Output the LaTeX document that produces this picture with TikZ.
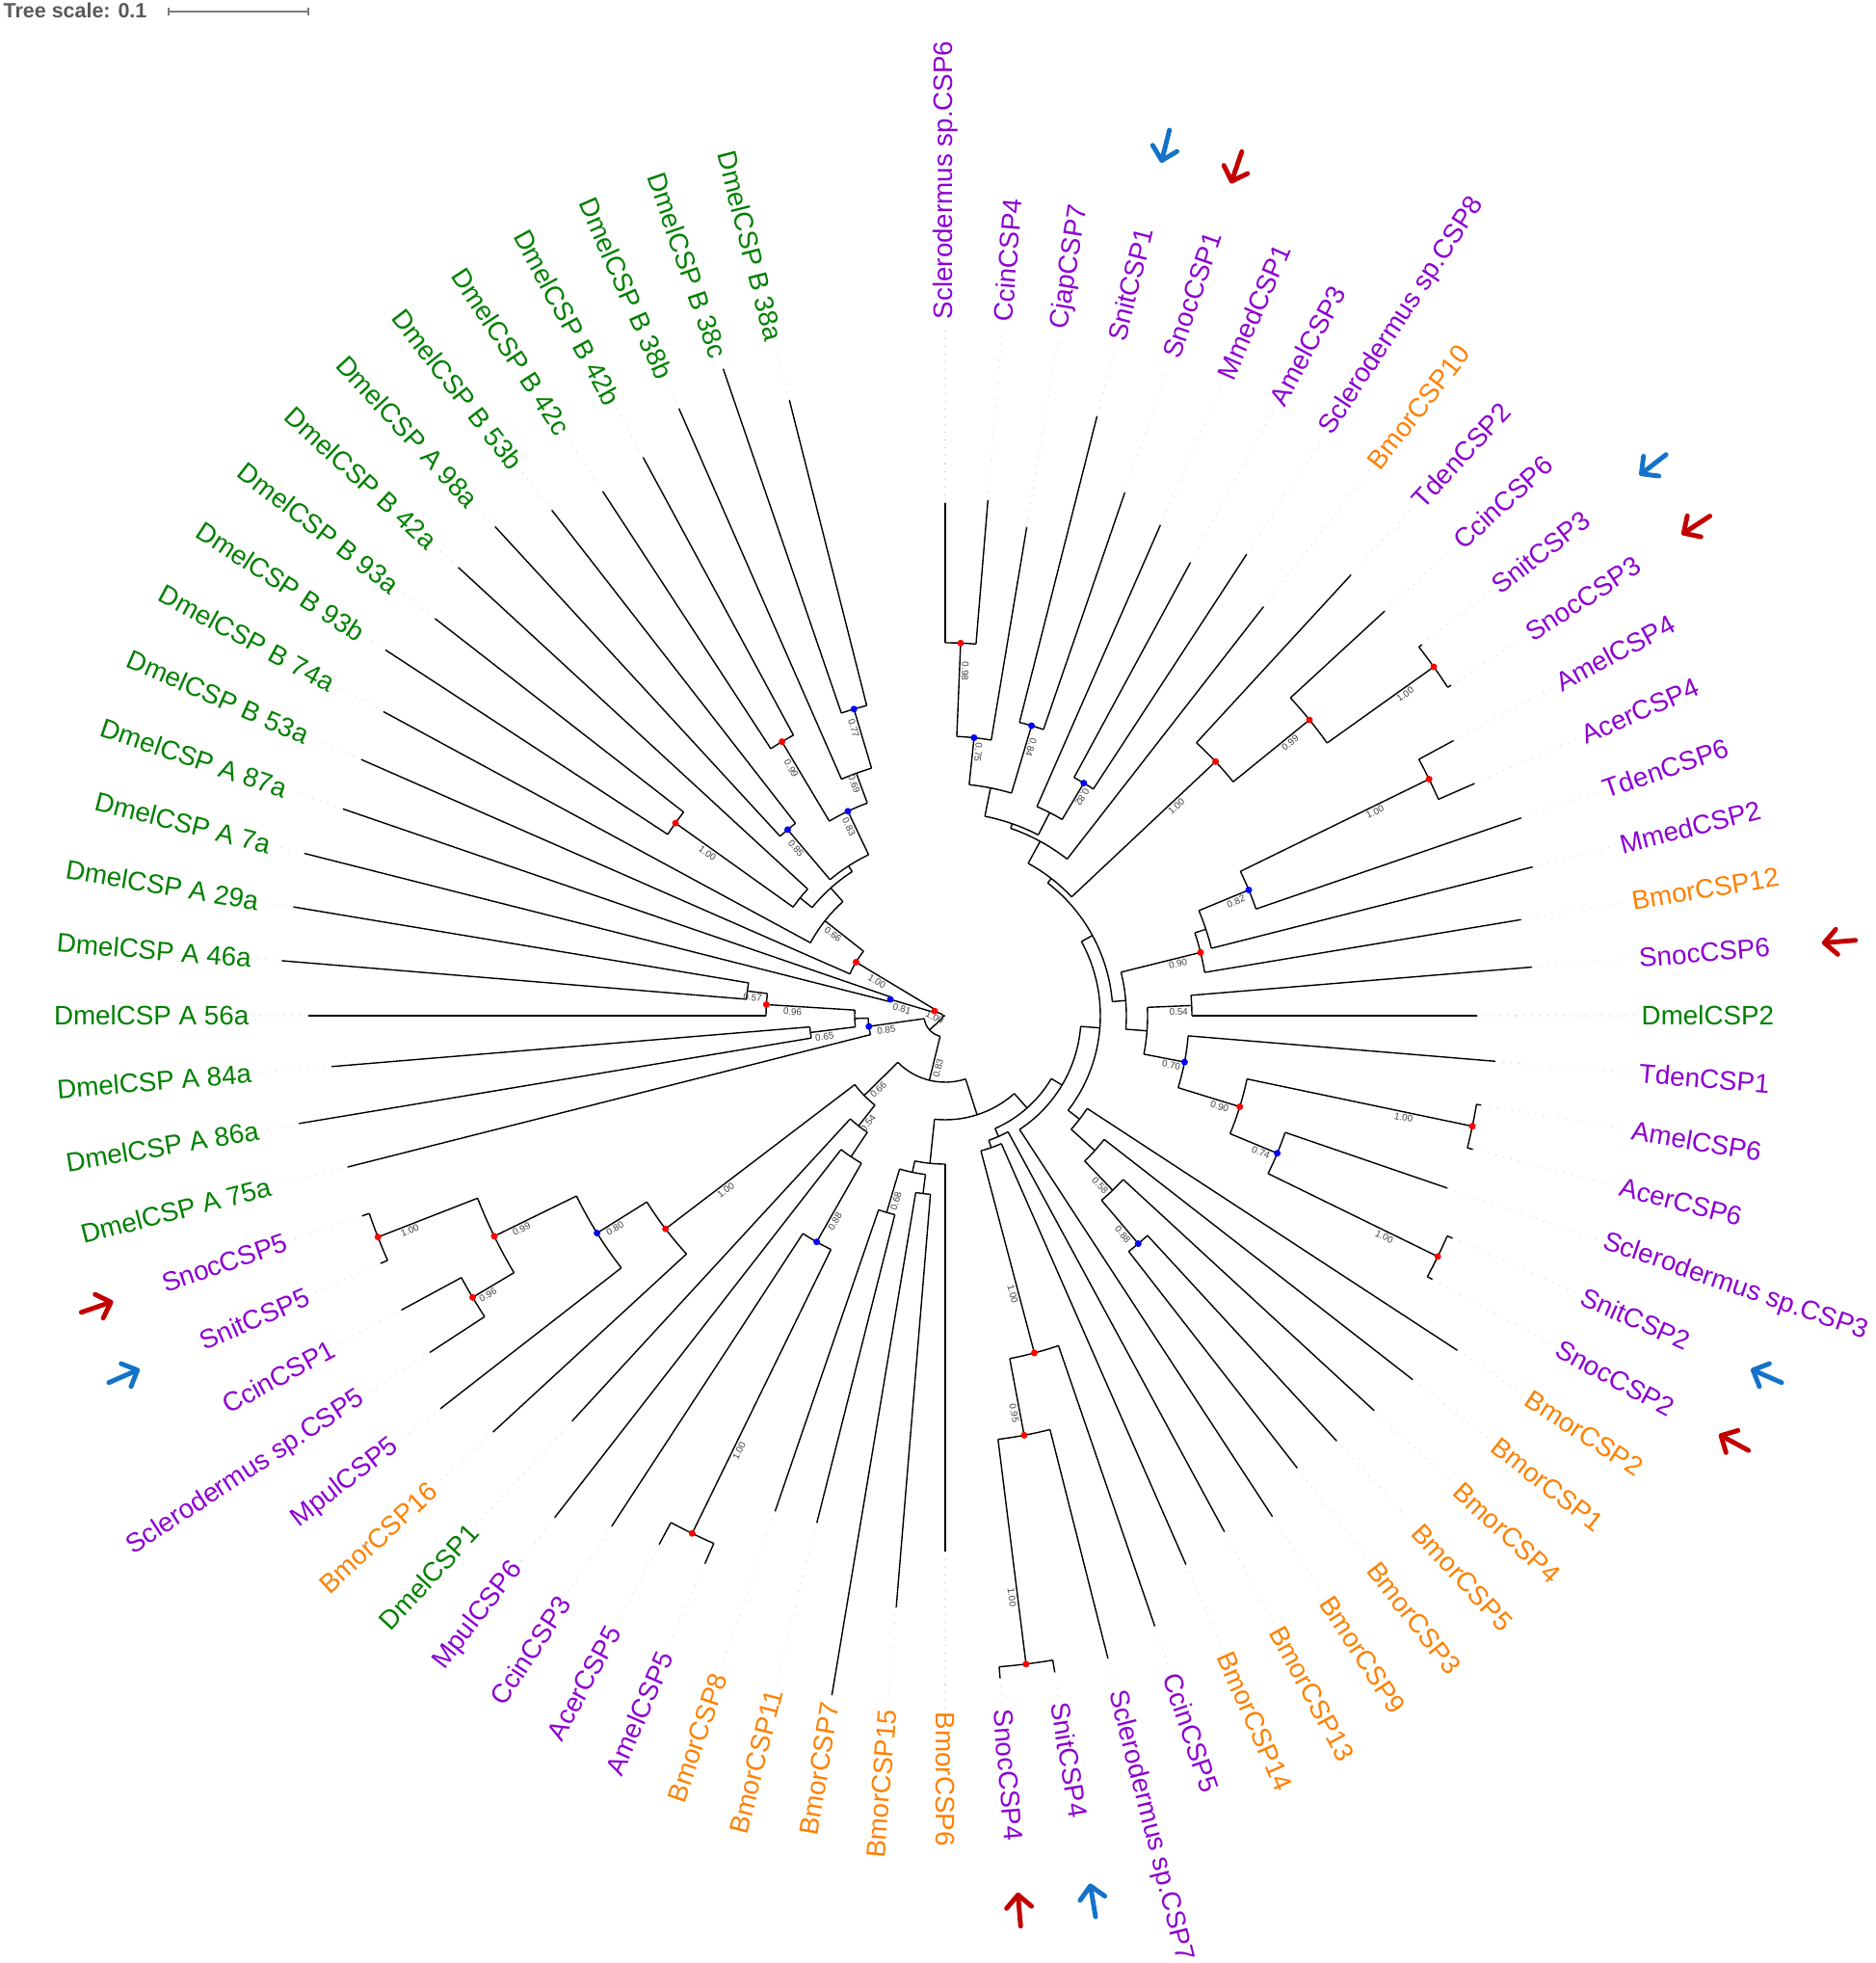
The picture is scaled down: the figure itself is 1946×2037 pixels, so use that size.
\documentclass[tikz,border=0pt]{standalone}
\usepackage{fontspec}
\setmainfont{Liberation Sans}
\usetikzlibrary{arrows.meta}
\definecolor{LeafPurple}{RGB}{140,0,210}
\definecolor{LeafGreen}{RGB}{0,128,0}
\definecolor{LeafOrange}{RGB}{255,128,0}
\definecolor{SupRed}{RGB}{255,0,0}
\definecolor{SupBlue}{RGB}{0,0,255}
\definecolor{ArrowRed}{RGB}{195,0,0}
\definecolor{ArrowBlue}{RGB}{20,115,200}
\definecolor{ScaleGray}{RGB}{90,90,90}
\tikzset{
  branch/.style={line width=0.4pt,draw=black},
  leader/.style={draw=gray!30,dotted,line width=0.3pt},
  leaflabel/.style={font=\fontsize{7.9}{9}\selectfont,inner sep=0pt},
  suplabel/.style={font=\fontsize{2.8}{3}\selectfont,text=black!75,inner sep=0.5pt},
  dotred/.style={circle,fill=SupRed,inner sep=0pt,minimum size=0.07cm},
  dotblue/.style={circle,fill=SupBlue,inner sep=0pt,minimum size=0.07cm},
  markarrow/.style={line width=1.4pt,line cap=round,
    -{Straight Barb[length=1.3mm,width=2.6mm,round]}},
  scalelabel/.style={font=\fontsize{6.1}{7}\selectfont\bfseries,text=ScaleGray,inner sep=0pt},
  scalebar/.style={draw=ScaleGray!80,line width=0.4pt}
}
% index -> angle: 76 slots round the circle, leaf 1 at the top
% leaf: index, parent radius, tip radius, colour, text
\newcommand\leaf[5]{%
  \pgfmathsetmacro\la{90-(#1-1)*4.736842}
  \draw[branch] (\la:#2) -- (\la:#3);
  \draw[leader] (\la:#3) -- (\la:718);
  \ifdim\la pt<-90.5pt
    \pgfmathsetmacro\lr{\la+180}
    \node[leaflabel,text=#4,anchor=east,rotate=\lr] (l#1) at (\la:722) {#5};
  \else
    \node[leaflabel,text=#4,anchor=west,rotate=\la] (l#1) at (\la:722) {#5};
  \fi}
% clade: index, parent radius, radius, first child index, last child index
\newcommand\clade[5]{%
  \pgfmathsetmacro\ca{90-(#1-1)*4.736842}
  \pgfmathsetmacro\cb{90-(#4-1)*4.736842}
  \pgfmathsetmacro\cc{90-(#5-1)*4.736842}
  \draw[branch] (\ca:#2) -- (\ca:#3);
  \draw[branch] (\cb:#3) arc[start angle=\cb,end angle=\cc,radius=#3];}
% support value on the branch: index, parent radius, radius, value, name
\newcommand\support[5]{%
  \pgfmathsetmacro\sa{90-(#1-1)*4.736842}
  \pgfmathsetmacro\sr{#2+0.7*(#3-#2)}
  \pgfmathsetmacro\srot{ifthenelse(\sa>50,\sa-180,ifthenelse(\sa<-90,\sa+180,\sa))}
  \ifdim\sa pt>50pt \def\sanc{south}\else\def\sanc{north}\fi
  \node[suplabel,rotate=\srot,anchor=\sanc] (s#5) at (\sa:\sr) {#4};}
% dot at a node: index, radius, style, name
\newcommand\dotat[4]{%
  \pgfmathsetmacro\da{90-(#1-1)*4.736842}
  \node[#3] (d#4) at (\da:#2) {};}
% arrow beside a label: index, colour, name
\newcommand\marker[3]{%
  \pgfmathsetmacro\ma{90-(#1-1)*4.736842}
  \coordinate (#3a) at (\ma:948);
  \coordinate (#3b) at (\ma:913);
  \draw[markarrow,draw=#2] (#3a) -- (#3b);}

\begin{document}
\begin{tikzpicture}[x=0.01cm,y=0.01cm]
  \useasboundingbox (-981,-983) rectangle (965,1054);

  % scale
  \node[scalelabel,anchor=west] (scaletext) at (-978,1043) {Tree scale: 0.1};
  \coordinate (scaleL) at (-806,1042);
  \coordinate (scaleR) at (-661,1042);
  \draw[scalebar] (scaleL) -- (scaleR);
  \draw[scalebar] (scaleL) ++(0,-4) -- ++(0,8);
  \draw[scalebar] (scaleR) ++(0,-4) -- ++(0,8);

  % backbone
  \clade{56.07}{0}{3}{49.11377}{63.019531}
  \clade{63.019531}{3}{12}{61.5}{64.539063}
  \clade{49.11377}{3}{22}{41.915039}{56.3125}

  % upper clade
  \clade{1.5}{290}{387}{1}{2}
  \clade{2.25}{241}{290}{1.5}{3}
  \clade{4.5}{241}{314}{4}{5}
  \clade{3.375}{211}{241}{2.25}{4.5}
  \clade{7.5}{237}{281}{7}{8}
  \clade{6.75}{211}{237}{6}{7.5}
  \clade{5.0625}{206}{211}{3.375}{6.75}
  \clade{7.03125}{180}{206}{5.0625}{9}
  \clade{12.5}{487}{623}{12}{13}
  \clade{11.75}{385}{487}{11}{12.5}
  \clade{10.875}{180}{385}{10}{11.75}
  \clade{8.953125}{174}{180}{7.03125}{10.875}
  \clade{14.5}{341}{559}{14}{15}
  \clade{15.25}{285}{341}{14.5}{16}
  \clade{16.125}{273}{285}{15.25}{17}
  \clade{17.0625}{188}{273}{16.125}{18}
  \clade{19.5}{210}{256}{19}{20}
  \clade{22.5}{320}{559}{22}{23}
  \clade{25.5}{373}{569}{25}{26}
  \clade{24.75}{320}{373}{24}{25.5}
  \clade{23.625}{253}{320}{22.5}{24.75}
  \clade{22.3125}{210}{253}{21}{23.625}
  \clade{20.90625}{188}{210}{19.5}{22.3125}
  \clade{18.984375}{174}{188}{17.0625}{20.90625}
  \clade{13.96875}{161}{174}{8.953125}{18.984375}
  \clade{30.5}{251}{310}{30}{31}
  \clade{29.75}{209}{251}{29}{30.5}
  \clade{28.875}{176}{209}{28}{29.75}
  \clade{27.9375}{161}{176}{27}{28.875}
  \clade{20.953125}{141}{161}{13.96875}{27.9375}
  \clade{26.4765625}{128}{141}{20.953125}{32}
  \clade{37.5}{443}{678}{37}{38}
  \clade{36.75}{362}{443}{36}{37.5}
  \clade{35.875}{145}{362}{35}{36.75}
  \clade{34.9375}{137}{145}{34}{35.875}
  \clade{33.96875}{128}{137}{33}{34.9375}
  \clade{30.22265625}{108}{128}{26.4765625}{33.96875}
  \clade{40.5}{166}{186}{40}{41}
  \clade{42.5}{166}{213}{42}{43}
  \clade{41.5}{154}{166}{40.5}{42.5}
  \clade{40.25}{108}{154}{39}{41.5}
  \clade{35.236328}{69}{108}{30.22265625}{40.25}
  \clade{44.5}{270}{598}{44}{45}
  \clade{45.25}{176}{270}{44.5}{46}
  \clade{46.125}{145.5}{176}{45.25}{47}
  \clade{47.0625}{118}{145.5}{46.125}{48}
  \clade{53.5}{521}{632}{53}{54}
  \clade{51.5}{521}{571}{51}{52}
  \clade{52.5}{426}{521}{51.5}{53.5}
  \clade{51.25}{365}{426}{50}{52.5}
  \clade{50.125}{118}{365}{49}{51.25}
  \clade{48.59375}{69}{118}{47.0625}{50.125}
  \clade{41.915039}{22}{69}{35.236328}{48.59375}

  % Dmel A/B clade
  \clade{59.5}{186}{207}{59}{60}
  \clade{58.75}{94}{186}{58}{59.5}
  \clade{56.5}{94}{141}{56}{57}
  \clade{57.625}{80}{94}{56.5}{58.75}
  \clade{56.3125}{22}{80}{55}{57.625}
  \clade{61.5}{12}{59.4}{61}{62}
  \clade{73.5}{268}{332}{73}{74}
  \clade{72.75}{235}{268}{72}{73.5}
  \clade{70.5}{235}{331}{70}{71}
  \clade{71.625}{185}{235}{70.5}{72.75}
  \clade{68.5}{185}{253}{68}{69}
  \clade{70.0625}{178}{185}{68.5}{71.625}
  \clade{65.5}{194}{344}{65}{66}
  \clade{66.25}{178}{194}{65.5}{67}
  \clade{68.15625}{159}{178}{66.25}{70.0625}
  \clade{66.078125}{108}{159}{64}{68.15625}
  \clade{64.539063}{12}{108}{63}{66.078125}

  % leaves
  \leaf{1}{387}{532}{LeafPurple}{Sclerodermus sp.CSP6}
  \leaf{2}{387}{537}{LeafPurple}{CcinCSP4}
  \leaf{3}{290}{514}{LeafPurple}{CjapCSP7}
  \leaf{4}{314}{642}{LeafPurple}{SnitCSP1}
  \leaf{5}{314}{574}{LeafPurple}{SnocCSP1}
  \leaf{6}{237}{556}{LeafPurple}{MmedCSP1}
  \leaf{7}{281}{535}{LeafPurple}{AmelCSP3}
  \leaf{8}{281}{572}{LeafPurple}{Sclerodermus sp.CSP8}
  \leaf{9}{206}{538}{LeafOrange}{BmorCSP10}
  \leaf{10}{385}{622}{LeafPurple}{TdenCSP2}
  \leaf{11}{487}{620}{LeafPurple}{CcinCSP6}
  \leaf{12}{623}{627}{LeafPurple}{SnitCSP3}
  \leaf{13}{623}{627}{LeafPurple}{SnocCSP3}
  \leaf{14}{559}{600}{LeafPurple}{AmelCSP4}
  \leaf{15}{559}{600}{LeafPurple}{AcerCSP4}
  \leaf{16}{341}{632}{LeafPurple}{TdenCSP6}
  \leaf{17}{285}{629}{LeafPurple}{MmedCSP2}
  \leaf{18}{273}{606}{LeafOrange}{BmorCSP12}
  \leaf{19}{256}{611}{LeafPurple}{SnocCSP6}
  \leaf{20}{256}{552}{LeafGreen}{DmelCSP2}
  \leaf{21}{253}{573}{LeafPurple}{TdenCSP1}
  \leaf{22}{559}{564}{LeafPurple}{AmelCSP6}
  \leaf{23}{559}{565}{LeafPurple}{AcerCSP6}
  \leaf{24}{373}{551}{LeafPurple}{Sclerodermus sp.CSP3}
  \leaf{25}{569}{575}{LeafPurple}{SnitCSP2}
  \leaf{26}{569}{575}{LeafPurple}{SnocCSP2}
  \leaf{27}{176}{635}{LeafOrange}{BmorCSP2}
  \leaf{28}{209}{615}{LeafOrange}{BmorCSP1}
  \leaf{29}{251}{605}{LeafOrange}{BmorCSP4}
  \leaf{30}{310}{600}{LeafOrange}{BmorCSP5}
  \leaf{31}{310}{595}{LeafOrange}{BmorCSP3}
  \leaf{32}{141}{621}{LeafOrange}{BmorCSP9}
  \leaf{33}{137}{609}{LeafOrange}{BmorCSP13}
  \leaf{34}{145}{622}{LeafOrange}{BmorCSP14}
  \leaf{35}{362}{670}{LeafPurple}{CcinCSP5}
  \leaf{36}{443}{688}{LeafPurple}{Sclerodermus sp.CSP7}
  \leaf{37}{678}{691}{LeafPurple}{SnitCSP4}
  \leaf{38}{678}{690}{LeafPurple}{SnocCSP4}
  \leaf{39}{154}{556}{LeafOrange}{BmorCSP6}
  \leaf{40}{186}{616}{LeafOrange}{BmorCSP15}
  \leaf{41}{186}{715}{LeafOrange}{BmorCSP7}
  \leaf{42}{213}{543}{LeafOrange}{BmorCSP11}
  \leaf{43}{213}{544}{LeafOrange}{BmorCSP8}
  \leaf{44}{598}{621}{LeafPurple}{AmelCSP5}
  \leaf{45}{598}{624}{LeafPurple}{AcerCSP5}
  \leaf{46}{270}{633}{LeafPurple}{CcinCSP3}
  \leaf{47}{176}{660}{LeafPurple}{MpulCSP6}
  \leaf{48}{145.5}{572}{LeafGreen}{DmelCSP1}
  \leaf{49}{365}{638}{LeafOrange}{BmorCSP16}
  \leaf{50}{426}{664}{LeafPurple}{MpulCSP5}
  \leaf{51}{571}{639}{LeafPurple}{Sclerodermus sp.CSP5}
  \leaf{52}{571}{642}{LeafPurple}{CcinCSP1}
  \leaf{53}{632}{640}{LeafPurple}{SnitCSP5}
  \leaf{54}{632}{640}{LeafPurple}{SnocCSP5}
  \leaf{55}{80}{640}{LeafGreen}{DmelCSP A 75a}
  \leaf{56}{141}{680}{LeafGreen}{DmelCSP A 86a}
  \leaf{57}{141}{639}{LeafGreen}{DmelCSP A 84a}
  \leaf{58}{186}{661}{LeafGreen}{DmelCSP A 56a}
  \leaf{59}{207}{691}{LeafGreen}{DmelCSP A 46a}
  \leaf{60}{207}{686}{LeafGreen}{DmelCSP A 29a}
  \leaf{61}{59.4}{686}{LeafGreen}{DmelCSP A 7a}
  \leaf{62}{59.4}{661}{LeafGreen}{DmelCSP A 87a}
  \leaf{63}{108}{662}{LeafGreen}{DmelCSP B 53a}
  \leaf{64}{159}{663}{LeafGreen}{DmelCSP B 74a}
  \leaf{65}{344}{694}{LeafGreen}{DmelCSP B 93b}
  \leaf{66}{344}{671}{LeafGreen}{DmelCSP B 93a}
  \leaf{67}{194}{687}{LeafGreen}{DmelCSP B 42a}
  \leaf{68}{253}{690}{LeafGreen}{DmelCSP A 98a}
  \leaf{69}{253}{665}{LeafGreen}{DmelCSP B 53b}
  \leaf{70}{331}{650}{LeafGreen}{DmelCSP B 42c}
  \leaf{71}{331}{659}{LeafGreen}{DmelCSP B 42b}
  \leaf{72}{268}{688}{LeafGreen}{DmelCSP B 38b}
  \leaf{73}{332}{710}{LeafGreen}{DmelCSP B 38c}
  \leaf{74}{332}{659}{LeafGreen}{DmelCSP B 38a}

  % support values
  \support{1.5}{290}{387}{0.98}{a}
  \support{2.25}{241}{290}{0.75}{b}
  \support{4.5}{241}{314}{0.84}{c}
  \support{7.5}{237}{281}{0.82}{e}
  \support{12.5}{487}{623}{1.00}{i}
  \support{11.75}{385}{487}{0.99}{j}
  \support{10.875}{180}{385}{1.00}{k}
  \support{14.5}{341}{559}{1.00}{m}
  \support{15.25}{285}{341}{0.82}{n}
  \support{17.0625}{188}{273}{0.90}{p}
  \support{19.5}{210}{256}{0.54}{s}
  \support{22.3125}{210}{253}{0.70}{y}
  \support{23.625}{253}{320}{0.90}{u}
  \support{22.5}{320}{559}{1.00}{v}
  \support{24.75}{320}{373}{0.74}{w}
  \support{25.5}{373}{569}{1.00}{x}
  \support{29.75}{209}{251}{0.58}{gam}
  \support{30.5}{251}{310}{0.88}{del}
  \support{37.5}{443}{678}{1.00}{sn4}
  \support{36.75}{362}{443}{0.95}{sc7}
  \support{35.875}{145}{362}{1.00}{cc5}
  \support{41.915039}{22}{69}{0.83}{bot}
  \support{42.5}{166}{213}{0.68}{mu}
  \support{45.25}{176}{270}{0.88}{xi}
  \support{44.5}{270}{598}{1.00}{nu}
  \support{47.0625}{118}{145.5}{0.54}{pi}
  \support{48.59375}{69}{118}{0.66}{lo}
  \support{50.125}{118}{365}{1.00}{sig}
  \support{51.25}{365}{426}{0.80}{tau}
  \support{52.5}{426}{521}{0.99}{phi}
  \support{53.5}{521}{632}{1.00}{chi}
  \support{51.5}{521}{571}{0.96}{psi}
  \support{56.3125}{22}{80}{0.85}{dA}
  \support{56.5}{94}{141}{0.65}{dB}
  \support{58.75}{94}{186}{0.96}{dC}
  \support{59.5}{186}{207}{0.57}{dD}
  \support{61.5}{12}{59.4}{0.81}{dE}
  \support{63.019531}{3}{12}{1.00}{dF}
  \support{64.539063}{12}{108}{1.00}{dG}
  \support{66.078125}{108}{159}{0.66}{dH}
  \support{65.5}{194}{344}{1.00}{dI}
  \support{68.5}{185}{253}{0.85}{dJ}
  \support{70.5}{235}{331}{0.99}{dK}
  \support{71.625}{185}{235}{0.83}{dL}
  \support{72.75}{235}{268}{0.69}{dM}
  \support{73.5}{268}{332}{0.77}{dN}

  % node dots
  \dotat{1.5}{387}{dotred}{a}
  \dotat{2.25}{290}{dotblue}{b}
  \dotat{4.5}{314}{dotblue}{c}
  \dotat{7.5}{281}{dotblue}{e}
  \dotat{12.5}{623}{dotred}{i}
  \dotat{11.75}{487}{dotred}{j}
  \dotat{10.875}{385}{dotred}{k}
  \dotat{14.5}{559}{dotred}{m}
  \dotat{15.25}{341}{dotblue}{n}
  \dotat{17.0625}{273}{dotred}{p}
  \dotat{22.3125}{253}{dotblue}{y}
  \dotat{23.625}{320}{dotred}{u}
  \dotat{22.5}{559}{dotred}{v}
  \dotat{24.75}{373}{dotblue}{w}
  \dotat{25.5}{569}{dotred}{x}
  \dotat{30.5}{310}{dotblue}{del}
  \dotat{37.5}{678}{dotred}{sn4}
  \dotat{36.75}{443}{dotred}{sc7}
  \dotat{35.875}{362}{dotred}{cc5}
  \dotat{45.25}{270}{dotblue}{xi}
  \dotat{44.5}{598}{dotred}{nu}
  \dotat{50.125}{365}{dotred}{sig}
  \dotat{51.25}{426}{dotblue}{tau}
  \dotat{52.5}{521}{dotred}{phi}
  \dotat{53.5}{632}{dotred}{chi}
  \dotat{51.5}{571}{dotred}{psi}
  \dotat{56.3125}{80}{dotblue}{dA}
  \dotat{58.75}{186}{dotred}{dC}
  \dotat{61.5}{59.4}{dotblue}{dE}
  \dotat{63.019531}{12}{dotred}{dF}
  \dotat{64.539063}{108}{dotred}{dG}
  \dotat{65.5}{344}{dotred}{dI}
  \dotat{68.5}{253}{dotblue}{dJ}
  \dotat{70.5}{331}{dotred}{dK}
  \dotat{71.625}{235}{dotblue}{dL}
  \dotat{73.5}{332}{dotblue}{dN}

  % arrows
  \marker{4}{ArrowBlue}{mA}
  \marker{5}{ArrowRed}{mB}
  \marker{12}{ArrowBlue}{mC}
  \marker{13}{ArrowRed}{mD}
  \marker{19}{ArrowRed}{mE}
  \marker{25}{ArrowBlue}{mF}
  \marker{26}{ArrowRed}{mG}
  \marker{37}{ArrowBlue}{mH}
  \marker{38}{ArrowRed}{mI}
  \marker{53}{ArrowBlue}{mJ}
  \marker{54}{ArrowRed}{mK}
\end{tikzpicture}
\end{document}
